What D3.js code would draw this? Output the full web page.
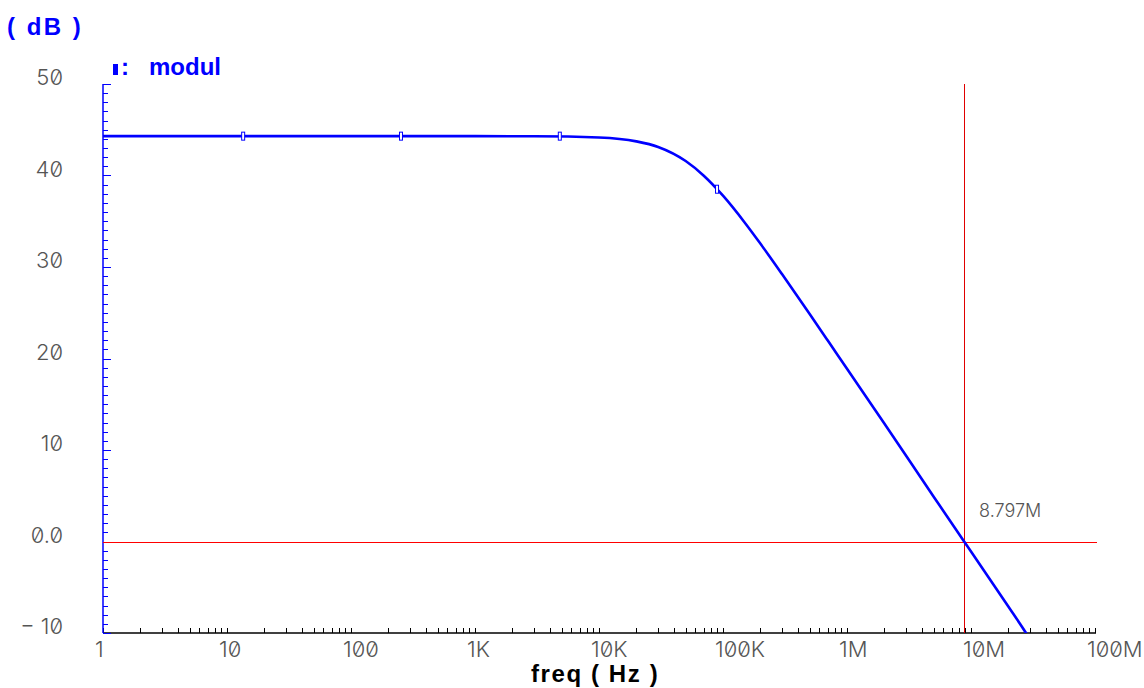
<!DOCTYPE html>
<html>
<head>
<meta charset="utf-8">
<script src="https://cdn.jsdelivr.net/npm/d3@7"></script>
<style>
  body { margin: 0; background: #fff; }
  .tick-label { font-family: Inter, "DejaVu Sans", sans-serif; font-weight: 300; fill: #555; font-feature-settings: "zero"; font-variant-numeric: slashed-zero; }
</style>
</head>
<body>
<div id="svg-area"></div>
<script>
// values
var freqs = [1, 10, 100, 1e3, 3e3, 1e4, 2e4, 3e4, 5e4, 7e4, 1e5, 1.5e5, 2e5, 3e5, 5e5, 7e5, 1e6, 2e6, 5e6, 8.797e6, 1e7, 2e7, 2.72e7, 3e7];
var modul = [44.3, 44.3, 44.3, 44.3, 44.29, 44.15, 43.73, 43.12, 41.58, 39.98, 37.79, 34.84, 32.56, 29.2, 24.86, 21.96, 18.87, 12.9, 4.9, 0, -1.1, -7.1, -9.8, -10.7];
var markerFreqs = [13.5, 253, 4830, 89500];
var markerVals = [44.3, 44.3, 44.3, 38.5];
var yTicks = [50, 40, 30, 20, 10, 0, -10];
var yTickLabels = ["50", "40", "30", "20", "10", "0.0", "\u2212 10"];
var xTicks = [1, 10, 100, 1e3, 1e4, 1e5, 1e6, 1e7, 1e8];
var xTickLabels = ["1", "10", "100", "1K", "10K", "100K", "1M", "10M", "100M"];
var cursorFreq = 8.797e6;
var cursorLabel = "8.797M";

var width = 1144, height = 688;

var svg = d3.select("#svg-area")
  .append("svg")
  .attr("width", width)
  .attr("height", height);

var x = d3.scaleLog().domain([1, 1e8]).range([103, 1095]);
var y = d3.scaleLinear().domain([-10, 50]).range([633, 84]);

// clip for the curve
svg.append("clipPath").attr("id", "plot")
  .append("rect")
  .attr("x", x(1)).attr("y", y(50))
  .attr("width", x(1e8) - x(1) + 2).attr("height", y(-10) - y(50));

// x axis (black, ticks point up)
var minorX = [];
for (var d = 1; d < 1e8; d *= 10) {
  for (var k = 1; k <= 9; k++) minorX.push(d * k);
}
minorX.push(1e8);

svg.append("line")
  .attr("x1", x(1)).attr("x2", x(1e8) + 1)
  .attr("y1", y(-10)).attr("y2", y(-10))
  .attr("stroke", "#000").attr("stroke-width", 1.5);

svg.selectAll(".xtick")
  .data(minorX)
  .enter()
  .append("line")
  .attr("x1", function (d) { return Math.round(x(d)) + 0.5 })
  .attr("x2", function (d) { return Math.round(x(d)) + 0.5 })
  .attr("y1", y(-10))
  .attr("y2", y(-10) - 5)
  .attr("stroke", "#000").attr("stroke-width", 1);

svg.selectAll(".xlabel")
  .data(xTicks)
  .enter()
  .append("text")
  .attr("class", "tick-label")
  .attr("x", function (d) { return x(d) - 8 })
  .attr("y", 657)
  .attr("font-size", 22)
  .text(function (d, i) { return xTickLabels[i] });

// y axis (blue, ticks point right)
svg.append("line")
  .attr("x1", x(1)).attr("x2", x(1))
  .attr("y1", y(50)).attr("y2", y(-10))
  .attr("stroke", "#0000ff").attr("stroke-width", 1.5);

var minorY = d3.range(-10, 51, 1);
svg.selectAll(".ytick")
  .data(minorY)
  .enter()
  .append("line")
  .attr("x1", x(1))
  .attr("x2", function (d) { return d % 10 === 0 ? x(1) + 8 : x(1) + 5 })
  .attr("y1", function (d) { return Math.round(y(d)) + 0.5 })
  .attr("y2", function (d) { return Math.round(y(d)) + 0.5 })
  .attr("stroke", "#0000ff").attr("stroke-width", 1);

svg.selectAll(".ylabel")
  .data(yTicks)
  .enter()
  .append("text")
  .attr("class", "tick-label")
  .attr("x", 63)
  .attr("y", function (d) { return y(d) + 1 })
  .attr("text-anchor", "end")
  .attr("font-size", 22)
  .text(function (d, i) { return yTickLabels[i] });

// 0 dB line and cursor
svg.append("line")
  .attr("x1", x(1)).attr("x2", x(1e8) + 2)
  .attr("y1", Math.round(y(0)) + 0.5).attr("y2", Math.round(y(0)) + 0.5)
  .attr("stroke", "#ff0000").attr("stroke-width", 1);

svg.append("line")
  .attr("x1", Math.round(x(cursorFreq)) + 0.5).attr("x2", Math.round(x(cursorFreq)) + 0.5)
  .attr("y1", y(50)).attr("y2", y(-10))
  .attr("stroke", "#e00000").attr("stroke-width", 1);

svg.append("text")
  .attr("class", "tick-label")
  .attr("x", x(cursorFreq) + 15)
  .attr("y", 517)
  .attr("font-size", 18)
  .text(cursorLabel);

// curve
var line = d3.line()
  .x(function (d) { return x(d[0]) })
  .y(function (d) { return y(d[1]) })
  .curve(d3.curveMonotoneX);

svg.append("path")
  .datum(d3.zip(freqs, modul))
  .attr("clip-path", "url(#plot)")
  .attr("d", line)
  .attr("fill", "none")
  .attr("stroke", "#0000ff")
  .attr("stroke-width", 2.6);

// markers
svg.selectAll(".marker")
  .data(d3.zip(markerFreqs, markerVals))
  .enter()
  .append("rect")
  .attr("x", function (d) { return x(d[0]) - 1.5 })
  .attr("y", function (d) { return y(d[1]) - 4 })
  .attr("width", 3)
  .attr("height", 8)
  .attr("fill", "#fff")
  .attr("stroke", "#0000ff")
  .attr("stroke-width", 1);

// titles
svg.append("text")
  .attr("x", 7)
  .attr("y", 35)
  .attr("font-family", "Liberation Sans, Arial, sans-serif")
  .attr("font-weight", "bold")
  .attr("font-size", 24)
  .attr("letter-spacing", 2.5)
  .attr("fill", "#0000ff")
  .text("( dB )");

svg.append("rect")
  .attr("x", 113).attr("y", 64)
  .attr("width", 5).attr("height", 11)
  .attr("fill", "#0000ff");

svg.append("text")
  .attr("x", 121)
  .attr("y", 75)
  .attr("font-family", "Liberation Sans, Arial, sans-serif")
  .attr("font-weight", "bold")
  .attr("font-size", 24)
  .attr("fill", "#0000ff")
  .text(":");

svg.append("text")
  .attr("x", 149)
  .attr("y", 75)
  .attr("font-family", "Liberation Sans, Arial, sans-serif")
  .attr("font-weight", "bold")
  .attr("font-size", 24)
  .attr("fill", "#0000ff")
  .text("modul");

svg.append("text")
  .attr("x", 531)
  .attr("y", 682)
  .attr("font-family", "Liberation Sans, Arial, sans-serif")
  .attr("font-weight", "bold")
  .attr("font-size", 24)
  .attr("letter-spacing", 1.6)
  .attr("fill", "#000")
  .text("freq ( Hz )");
</script>
</body>
</html>
